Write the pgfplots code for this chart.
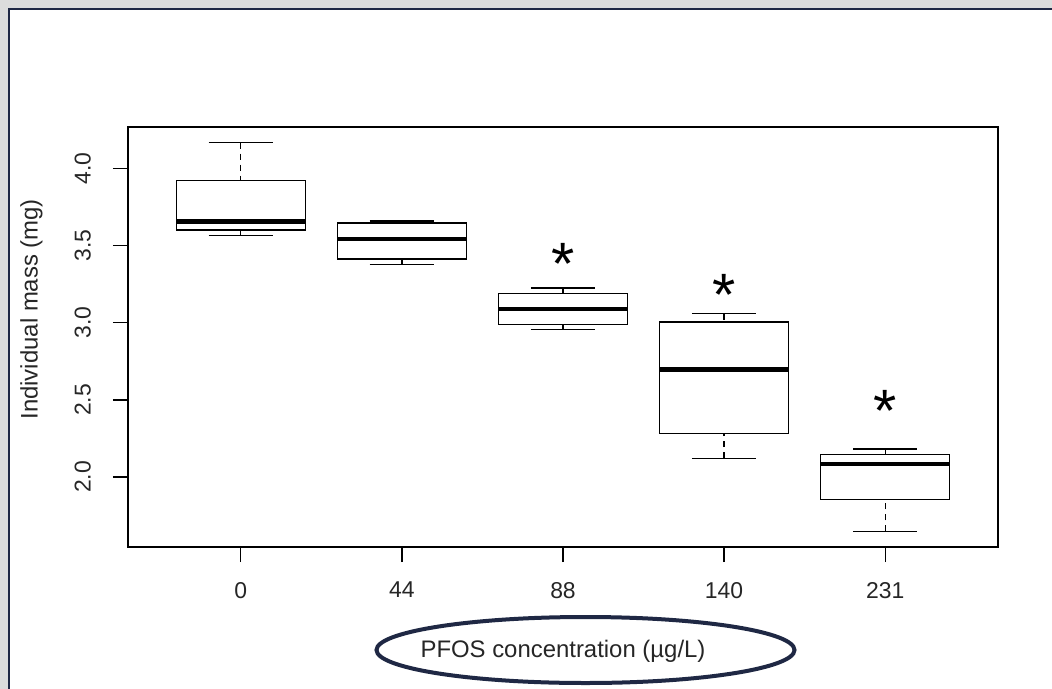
\documentclass[border=0pt]{standalone}
\usepackage{pgfplots}
\pgfplotsset{compat=1.18}
\usepgfplotslibrary{statistics}
\usepackage{fontspec}
\setmainfont{Liberation Sans}
\definecolor{bggray}{HTML}{DCDCDC}
\definecolor{navy}{HTML}{1F2844}
\begin{document}
\begin{tikzpicture}
\useasboundingbox (0bp,0bp) rectangle (1052bp,-689bp);
\fill[bggray] (0bp,0bp) rectangle (1052bp,-689bp);
\clip (0bp,0bp) rectangle (1052bp,-689bp);
\draw[navy, line width=2.5bp, fill=white] (9bp,-9bp) rectangle (1080bp,-720bp);
\begin{axis}[
  at={(128bp,-127bp)}, anchor=north west,
  scale only axis, width=870bp, height=420bp,
  xmin=0.3, xmax=5.7, ymin=1.547, ymax=4.267,
  xtick={1,2,3,4,5}, xticklabels={0,44,88,140,231},
  ytick={2,2.5,3,3.5,4}, yticklabels={2.0,2.5,3.0,3.5,4.0},
  xtick pos=lower, ytick pos=left,
  tick align=outside, major tick length=15bp,
  tick style={black, line width=1.4bp},
  axis line style={black, line width=1.4bp},
  tick label style={font=\fontsize{23}{27}\selectfont, text=black!85},
  label style={font=\fontsize{24}{28}\selectfont, text=black!85},
  yticklabel style={rotate=90, anchor=south, inner sep=0pt, yshift=22bp},
  xticklabel style={anchor=north, inner sep=0pt, yshift=-20bp},
  xlabel={PFOS concentration (µg/L)},
  ylabel={Individual mass (mg)},
  xlabel style={at={(axis description cs:0.5,-0.264)}, anchor=base},
  ylabel style={at={(axis description cs:-0.111,0.566)}, anchor=center, rotate=0},
  boxplot/draw direction=y,
  boxplot/draw/lower whisker/.code={%
    \draw[black, line width=1.4bp, dash pattern=on 6bp off 5bp]
      (boxplot box cs:\pgfplotsboxplotvalue{lower whisker},0.5) --
      (boxplot box cs:\pgfplotsboxplotvalue{lower quartile},0.5);
    \draw[black, line width=1.4bp] (boxplot whisker cs:\pgfplotsboxplotvalue{lower whisker},0) --
      (boxplot whisker cs:\pgfplotsboxplotvalue{lower whisker},1);
  },
  boxplot/draw/upper whisker/.code={%
    \draw[black, line width=1.4bp, dash pattern=on 6bp off 5bp]
      (boxplot box cs:\pgfplotsboxplotvalue{upper whisker},0.5) --
      (boxplot box cs:\pgfplotsboxplotvalue{upper quartile},0.5);
    \draw[black, line width=1.4bp] (boxplot whisker cs:\pgfplotsboxplotvalue{upper whisker},0) --
      (boxplot whisker cs:\pgfplotsboxplotvalue{upper whisker},1);
  },
  boxplot/every median/.style={line width=4.5bp},
  boxplot/box extend=0.8,
  boxplot/whisker extend=0.4,
]
\addplot[black, line width=1.4bp, boxplot prepared={draw position=1,
  lower whisker=3.566, lower quartile=3.600, median=3.654,
  upper quartile=3.922, upper whisker=4.166}] coordinates {};
\addplot[black, line width=1.4bp, boxplot prepared={draw position=2,
  lower whisker=3.378, lower quartile=3.413, median=3.542,
  upper quartile=3.646, upper whisker=3.657}] coordinates {};
\addplot[black, line width=1.4bp, boxplot prepared={draw position=3,
  lower whisker=2.957, lower quartile=2.987, median=3.087,
  upper quartile=3.190, upper whisker=3.225}] coordinates {};
\addplot[black, line width=1.4bp, boxplot prepared={draw position=4,
  lower whisker=2.122, lower quartile=2.284, median=2.698,
  upper quartile=3.004, upper whisker=3.058}] coordinates {};
\addplot[black, line width=1.4bp, boxplot prepared={draw position=5,
  lower whisker=1.649, lower quartile=1.856, median=2.085,
  upper quartile=2.148, upper whisker=2.182}] coordinates {};
\node[font=\fontsize{60}{60}\selectfont, anchor=base, yshift=-30bp] at (axis cs:3,3.44) {*};
\node[font=\fontsize{60}{60}\selectfont, anchor=base, yshift=-30bp] at (axis cs:4,3.238) {*};
\node[font=\fontsize{60}{60}\selectfont, anchor=base, yshift=-30bp] at (axis cs:5,2.488) {*};
\end{axis}
\draw[navy, line width=4bp] (585.5bp,-650bp) ellipse [x radius=209bp, y radius=33bp];
\end{tikzpicture}
\end{document}
